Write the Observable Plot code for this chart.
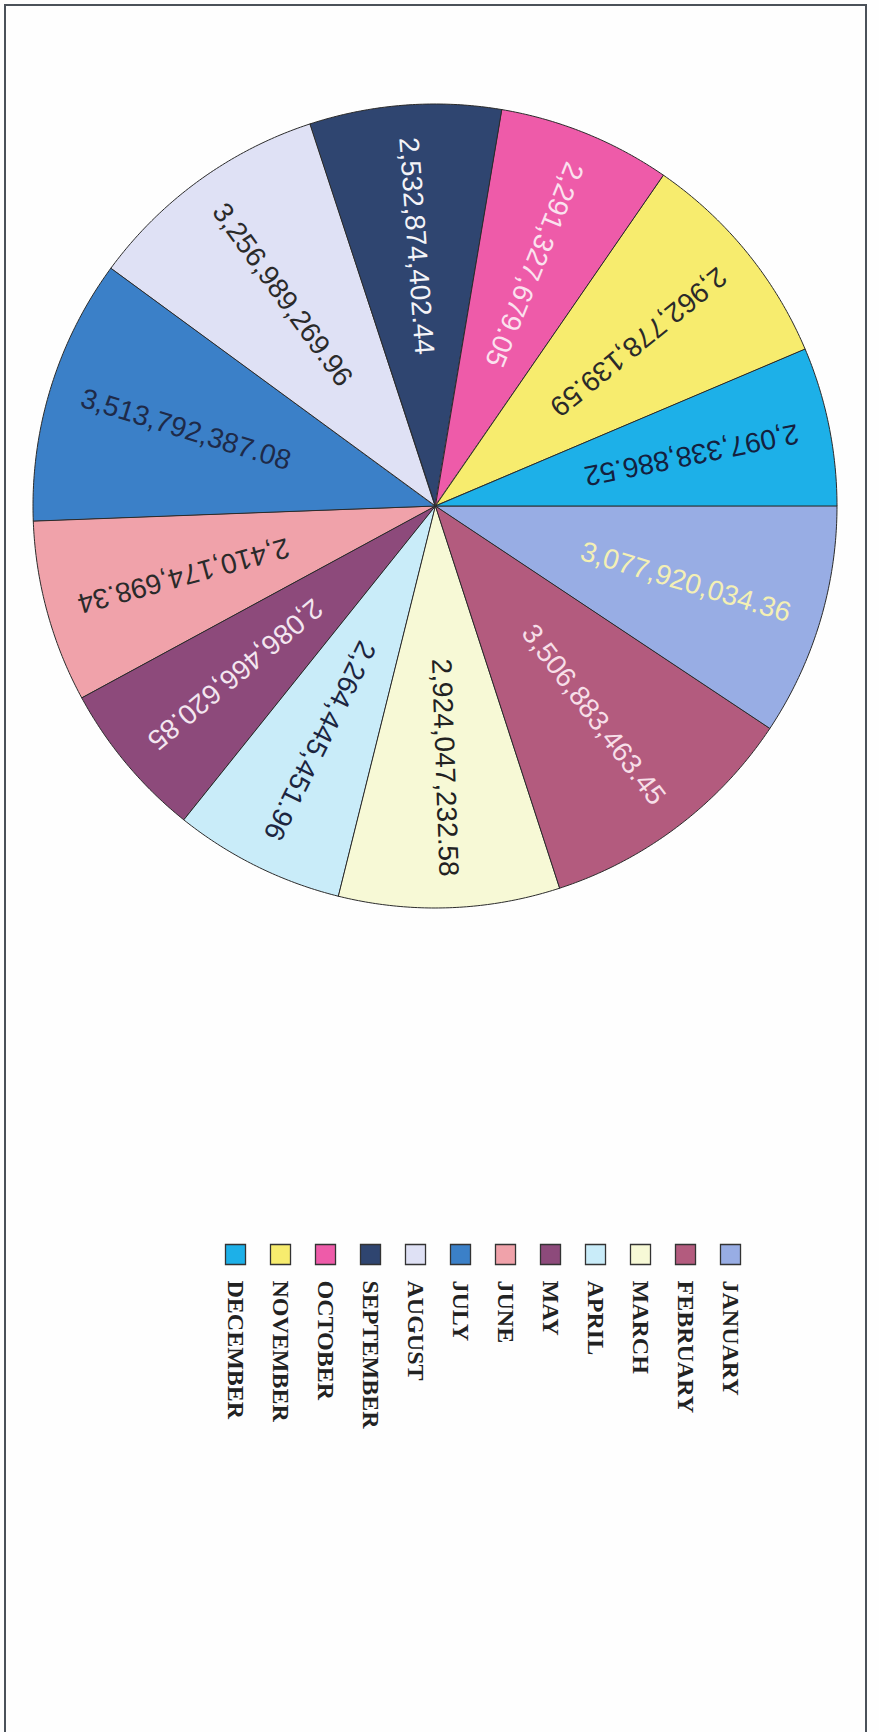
<!DOCTYPE html>
<html>
<head>
<meta charset="utf-8">
<script src="https://cdn.jsdelivr.net/npm/d3@7"></script>
<script src="https://cdn.jsdelivr.net/npm/@observablehq/plot@0.6"></script>
<style>
  html, body { margin: 0; padding: 0; background: #ffffff; }
  #page { position: relative; width: 879px; height: 1732px; overflow: hidden; background: #fefefe; }
  #frame { position: absolute; left: 4px; top: 4px; width: 863px; height: 1780px; border: 2px solid #4b5159; box-sizing: border-box; }
  #pie { position: absolute; left: 0; top: 0; }
  #legend { position: absolute; left: 0; top: 1230px; }
</style>
</head>
<body>
<div id="page">
  <div id="frame"></div>
  <div id="pie"></div>
  <div id="legend"></div>
</div>
<script>
// ---- data ----
const months = ["JANUARY", "FEBRUARY", "MARCH", "APRIL", "MAY", "JUNE",
                "JULY", "AUGUST", "SEPTEMBER", "OCTOBER", "NOVEMBER", "DECEMBER"];
const values = [3077920034.36, 3506883463.45, 2924047232.58, 2264445451.96,
                2086466620.85, 2410174698.34, 3513792387.08, 3256989269.96,
                2532874402.44, 2291327679.05, 2962778139.59, 2097338886.52];

// ---- styles ----
const sliceColors = ["#98ade4", "#b35b7e", "#f7f9d6", "#c9ecf9", "#8d4a7b", "#f0a2aa",
                     "#3b80c8", "#dfe1f5", "#2f4570", "#ee5ba9", "#f7ec6e", "#1db0e8"];
const labelColors = ["#f4f0b4", "#f7dfe8", "#222222", "#1c2540", "#f3e6f0", "#2a2a2a",
                     "#1e2a48", "#2a2a2a", "#f4f4f8", "#fbe2ef", "#2a2a2a", "#14203e"];

const fmt = d3.format(",.2f");
const arcs = d3.pie().sort(null).value(d => d)(values);

// wedge outline points (unit circle), angle measured clockwise from 3 o'clock
const arcPts = [];
arcs.forEach((a, i) => {
  const n = Math.max(2, Math.ceil((a.endAngle - a.startAngle) / (Math.PI / 360)));
  for (let k = 0; k <= n; k++) {
    const t = a.startAngle + (a.endAngle - a.startAngle) * k / n;
    arcPts.push({month: months[i], x: Math.cos(t), y: Math.sin(t)});
  }
});

const labelR = 0.65;
const labels = arcs.map((a, i) => {
  const mid = (a.startAngle + a.endAngle) / 2;
  const deg = mid * 180 / Math.PI;
  return {month: months[i], x: labelR * Math.cos(mid), y: labelR * Math.sin(mid),
          rot: deg % 180, text: fmt(values[i])};
});

const W = 879, R = 402, CX = 435, CY = 506, H = 940;

const piePlot = Plot.plot({
  width: W, height: H,
  marginLeft: CX - R, marginRight: W - (CX + R),
  marginTop: CY - R, marginBottom: H - (CY + R),
  x: {domain: [-1, 1], axis: null},
  y: {domain: [-1, 1], reverse: true, axis: null},
  color: {domain: months, range: sliceColors},
  style: {background: "transparent", overflow: "visible"},
  marks: [
    Plot.area(arcPts, {x1: "x", y1: "y", x2: 0, y2: 0, z: "month", fill: "month",
                       stroke: "#2b2b2b", strokeWidth: 1, curve: "linear"}),
    ...labels.map((l, i) => Plot.text([l], {
      x: "x", y: "y", text: "text", rotate: "rot",
      textAnchor: "middle", lineAnchor: "middle",
      fontSize: 28, fontFamily: "Liberation Sans, Arial, sans-serif",
      fill: labelColors[i]
    }))
  ]
});
document.getElementById("pie").appendChild(piePlot);

const legendPlot = Plot.plot({
  width: W, height: 240,
  marginTop: 50, marginBottom: 0, marginLeft: 0, marginRight: 0,
  x: {type: "point", domain: months.slice().reverse(), range: [210, 754], axis: null},
  color: {domain: months, range: sliceColors},
  style: {background: "transparent", overflow: "visible"},
  marks: [
    Plot.dot(months, {x: d => d, fill: d => d, symbol: "square", r: 11.3,
                      stroke: "#333", strokeWidth: 1.3, frameAnchor: "top", dy: -26}),
    Plot.text(months, {x: d => d, text: d => d, rotate: 90,
                       textAnchor: "start", lineAnchor: "middle", frameAnchor: "top",
                       fontSize: 24, fontWeight: "bold",
                       fontFamily: "Liberation Serif, Times New Roman, serif", fill: "#222"})
  ]
});
document.getElementById("legend").appendChild(legendPlot);
</script>
</body>
</html>
